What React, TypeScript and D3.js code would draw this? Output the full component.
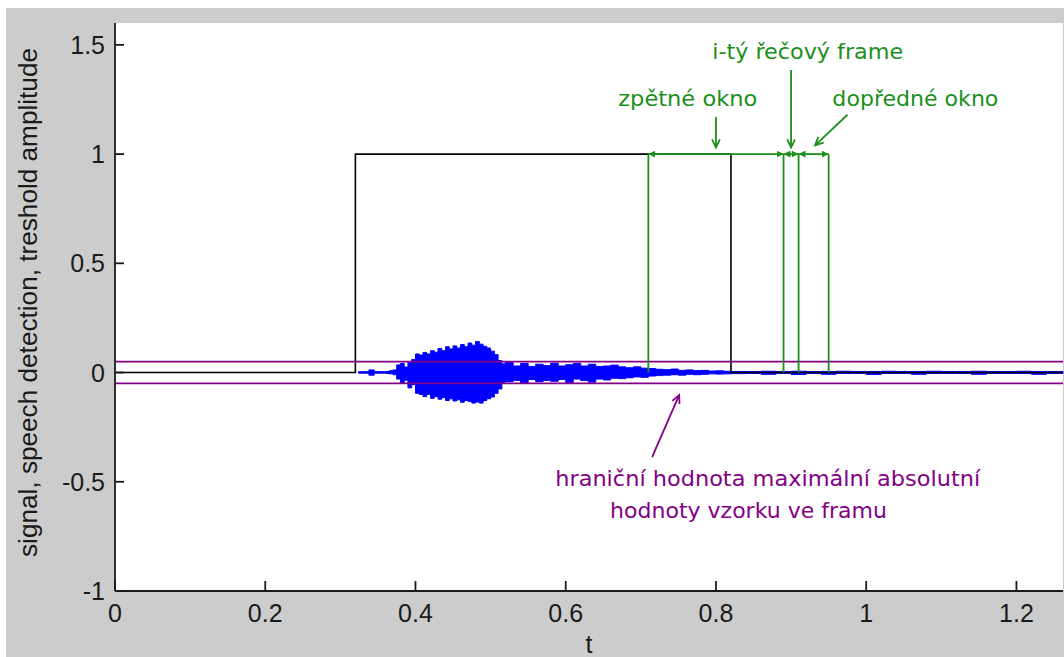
import * as d3 from "d3";

const W = 1058;
const H = 649;
const plot = { left: 109, right: 1057, top: 15, bottom: 583 };

const xDomain = [0, 1.262];
const yDomain = [-1, 1.6];
const xTicks = [0, 0.2, 0.4, 0.6, 0.8, 1, 1.2];
const yTicks = [-1, -0.5, 0, 0.5, 1, 1.5];

// speech detection (black step)
const detectT = [0, 0.32, 0.32, 0.82, 0.82, 1.262];
const detectV = [0, 0, 1, 1, 0, 0];

// threshold of max abs amplitude in a frame
const threshold = 0.05;

// frame / window edges (green)
const frameEdges = [0.71, 0.89, 0.91, 0.95];

// signal envelope
const sigT = [
  0.324, 0.338, 0.345, 0.36, 0.365,
  0.37, 0.375, 0.38, 0.385, 0.39, 0.395, 0.4, 0.405, 0.41, 0.415, 0.42, 0.425,
  0.43, 0.435, 0.44, 0.445, 0.45, 0.455, 0.46, 0.465, 0.47, 0.475, 0.48, 0.485,
  0.49, 0.495, 0.5, 0.505, 0.51, 0.515,
  0.52, 0.53, 0.54, 0.55, 0.56, 0.57, 0.58, 0.59, 0.6, 0.61, 0.62, 0.63, 0.64,
  0.65, 0.66, 0.67, 0.68, 0.69, 0.7, 0.71, 0.72, 0.73, 0.74, 0.75, 0.76, 0.77,
  0.78, 0.79, 0.8, 0.81, 0.82,
  0.84, 0.86, 0.88, 0.9, 0.92, 0.94, 0.96, 0.98, 1.0, 1.02, 1.04, 1.06, 1.08,
  1.1, 1.12, 1.14, 1.16, 1.18, 1.2, 1.22, 1.24, 1.262,
];
const sigHi = [
  0.004, 0.012, 0.004, 0.005, 0.008,
  0.012, 0.035, 0.042, 0.025, 0.048, 0.06, 0.085, 0.08, 0.092, 0.085, 0.1, 0.093,
  0.11, 0.1, 0.118, 0.108, 0.122, 0.112, 0.128, 0.118, 0.135, 0.125, 0.142, 0.13,
  0.12, 0.112, 0.098, 0.082, 0.055, 0.04,
  0.048, 0.03, 0.042, 0.028, 0.038, 0.032, 0.043, 0.03, 0.036, 0.042, 0.03, 0.038, 0.028,
  0.03, 0.034, 0.026, 0.022, 0.026, 0.02, 0.018, 0.015, 0.013, 0.016, 0.01, 0.012, 0.009,
  0.01, 0.007, 0.008, 0.006, 0.005,
  0.005, 0.006, 0.005, 0.006, 0.005, 0.005, 0.006, 0.005, 0.005, 0.006, 0.005, 0.005, 0.006,
  0.005, 0.005, 0.006, 0.005, 0.005, 0.006, 0.005, 0.005, 0.005,
];
const sigLo = [
  -0.003, -0.012, -0.003, -0.004, -0.006,
  -0.01, -0.03, -0.05, -0.035, -0.07, -0.055, -0.095, -0.1, -0.11, -0.1, -0.118, -0.11,
  -0.122, -0.115, -0.128, -0.12, -0.13, -0.125, -0.136, -0.128, -0.132, -0.14, -0.135, -0.14,
  -0.128, -0.12, -0.112, -0.095, -0.075, -0.045,
  -0.042, -0.036, -0.048, -0.032, -0.042, -0.036, -0.04, -0.032, -0.046, -0.03, -0.036, -0.044, -0.03,
  -0.034, -0.026, -0.028, -0.024, -0.02, -0.022, -0.016, -0.014, -0.012, -0.01, -0.012, -0.008, -0.01,
  -0.008, -0.006, -0.007, -0.006, -0.005,
  -0.004, -0.008, -0.004, -0.009, -0.004, -0.008, -0.004, -0.004, -0.009, -0.004, -0.004, -0.008, -0.004,
  -0.004, -0.004, -0.008, -0.004, -0.004, -0.004, -0.008, -0.004, -0.004,
];

// annotations: [x, y] in data units
const greenLabels = [
  { text: "i-tý řečový frame", x: 0.795, y: 1.435, len: 191 },
  { text: "zpětné okno", x: 0.67, y: 1.22, len: 139 },
  { text: "dopředné okno", x: 0.955, y: 1.22, len: 166 },
];
const greenPointers = [
  { x1: 0.8, y1: 1.17, x2: 0.8, y2: 1.03 },
  { x1: 0.9, y1: 1.385, x2: 0.9, y2: 1.03 },
  { x1: 0.975, y1: 1.18, x2: 0.932, y2: 1.04 },
];
const purpleLabels = [
  { text: "hraniční hodnota maximální absolutní", x: 0.586, y: -0.519, len: 425 },
  { text: "hodnoty vzorku ve framu", x: 0.659, y: -0.666, len: 277 },
];
const purplePointer = { x1: 0.715, y1: -0.387, x2: 0.751, y2: -0.103 };

const GREEN = "#1a8f1a";
const PURPLE = "#840084";
const BLUE = "#0000ff";
const AXIS_FONT = "'Liberation Sans', Arial, sans-serif";
const NOTE_FONT = "'DejaVu Sans', sans-serif";

export default function App() {
  const x = d3.scaleLinear().domain(xDomain).range([plot.left, plot.right]);
  const y = d3.scaleLinear().domain(yDomain).range([plot.bottom, plot.top]);

  const detectLine = d3
    .line<number>()
    .x((d) => x(d))
    .y((_, i) => y(detectV[i]))(detectT);

  const sigArea = d3
    .area<number>()
    .curve(d3.curveStepAfter)
    .x((d) => x(d))
    .y0((_, i) => y(sigLo[i]))
    .y1((_, i) => y(sigHi[i]))(sigT);

  const spans = frameEdges.slice(1).map((e, i) => [frameEdges[i], e]);

  const vHead = (x1: number, y1: number, x2: number, y2: number, c: string) => {
    const px1 = x(x1), py1 = y(y1), px2 = x(x2), py2 = y(y2);
    const a = Math.atan2(py2 - py1, px2 - px1);
    const L = 9, s = 0.45;
    const p1 = [px2 - L * Math.cos(a - s), py2 - L * Math.sin(a - s)];
    const p2 = [px2 - L * Math.cos(a + s), py2 - L * Math.sin(a + s)];
    return (
      <g stroke={c} strokeWidth={1.8} fill="none">
        <line x1={px1} y1={py1} x2={px2} y2={py2} />
        <polyline points={`${p1[0]},${p1[1]} ${px2},${py2} ${p2[0]},${p2[1]}`} />
      </g>
    );
  };

  return (
    <svg
      width={W}
      height={H}
      style={{ position: "absolute", left: 6, top: 8, display: "block" }}
    >
      <defs>
        <marker
          id="gtip"
          viewBox="0 0 10 10"
          refX={10}
          refY={5}
          markerWidth={7}
          markerHeight={7}
          markerUnits="userSpaceOnUse"
          orient="auto-start-reverse"
        >
          <path d="M0,0 L10,5 L0,10 z" fill={GREEN} />
        </marker>
      </defs>
      <rect width={W} height={H} fill="#cccccc" />
      <rect
        x={plot.left}
        y={plot.top}
        width={plot.right - plot.left}
        height={plot.bottom - plot.top}
        fill="#ffffff"
      />

      {/* signal */}
      <path d={sigArea ?? ""} fill={BLUE} stroke={BLUE} strokeWidth={1} />

      {/* speech detection */}
      <path d={detectLine ?? ""} fill="none" stroke="#000" strokeWidth={1.6} />

      {/* thresholds */}
      {[threshold, -threshold].map((t) => (
        <line
          key={t}
          x1={plot.left}
          x2={plot.right}
          y1={y(t)}
          y2={y(t)}
          stroke={PURPLE}
          strokeWidth={1.8}
        />
      ))}

      {/* frame edges */}
      {frameEdges.map((e) => (
        <line
          key={e}
          x1={x(e)}
          x2={x(e)}
          y1={y(0)}
          y2={y(1)}
          stroke={GREEN}
          strokeWidth={1.8}
        />
      ))}
      {spans.map(([a, b]) => (
        <line
          key={a}
          x1={x(a)}
          x2={x(b)}
          y1={y(1)}
          y2={y(1)}
          stroke={GREEN}
          strokeWidth={1.8}
          markerStart="url(#gtip)"
          markerEnd="url(#gtip)"
        />
      ))}

      {/* annotations */}
      {greenPointers.map((p, i) => (
        <g key={i}>{vHead(p.x1, p.y1, p.x2, p.y2, GREEN)}</g>
      ))}
      {greenLabels.map((l) => (
        <text
          key={l.text}
          x={x(l.x)}
          y={y(l.y)}
          fill={GREEN}
          fontFamily={NOTE_FONT}
          fontSize={21}
          textLength={l.len}
          lengthAdjust="spacingAndGlyphs"
        >
          {l.text}
        </text>
      ))}
      {vHead(purplePointer.x1, purplePointer.y1, purplePointer.x2, purplePointer.y2, PURPLE)}
      {purpleLabels.map((l) => (
        <text
          key={l.text}
          x={x(l.x)}
          y={y(l.y)}
          fill={PURPLE}
          fontFamily={NOTE_FONT}
          fontSize={21}
          textLength={l.len}
          lengthAdjust="spacingAndGlyphs"
        >
          {l.text}
        </text>
      ))}

      {/* axes */}
      <g stroke="#1a1a1a" strokeWidth={1.8} fill="none">
        <line x1={plot.left} x2={plot.right} y1={plot.bottom} y2={plot.bottom} />
        <line x1={plot.left} x2={plot.left} y1={plot.top} y2={plot.bottom} />
        {xTicks.map((t) => (
          <line key={t} x1={x(t)} x2={x(t)} y1={plot.bottom} y2={plot.bottom - 10} />
        ))}
        {yTicks.map((t) => (
          <line key={t} x1={plot.left} x2={plot.left + 9} y1={y(t)} y2={y(t)} />
        ))}
      </g>
      <g fill="#1a1a1a" fontFamily={AXIS_FONT} fontSize={25}>
        {xTicks.map((t) => (
          <text key={t} x={x(t)} y={614} textAnchor="middle">
            {String(t)}
          </text>
        ))}
        {yTicks.map((t) => (
          <text key={t} x={plot.left - 10} y={y(t)} dy="0.36em" textAnchor="end">
            {String(t)}
          </text>
        ))}
        <text x={(plot.left + plot.right) / 2} y={645} textAnchor="middle">
          t
        </text>
        <text
          transform={`translate(31,${294.5}) rotate(-90)`}
          textAnchor="middle"
          textLength={509}
          lengthAdjust="spacingAndGlyphs"
        >
          signal, speech detection, treshold amplitude
        </text>
      </g>
    </svg>
  );
}
